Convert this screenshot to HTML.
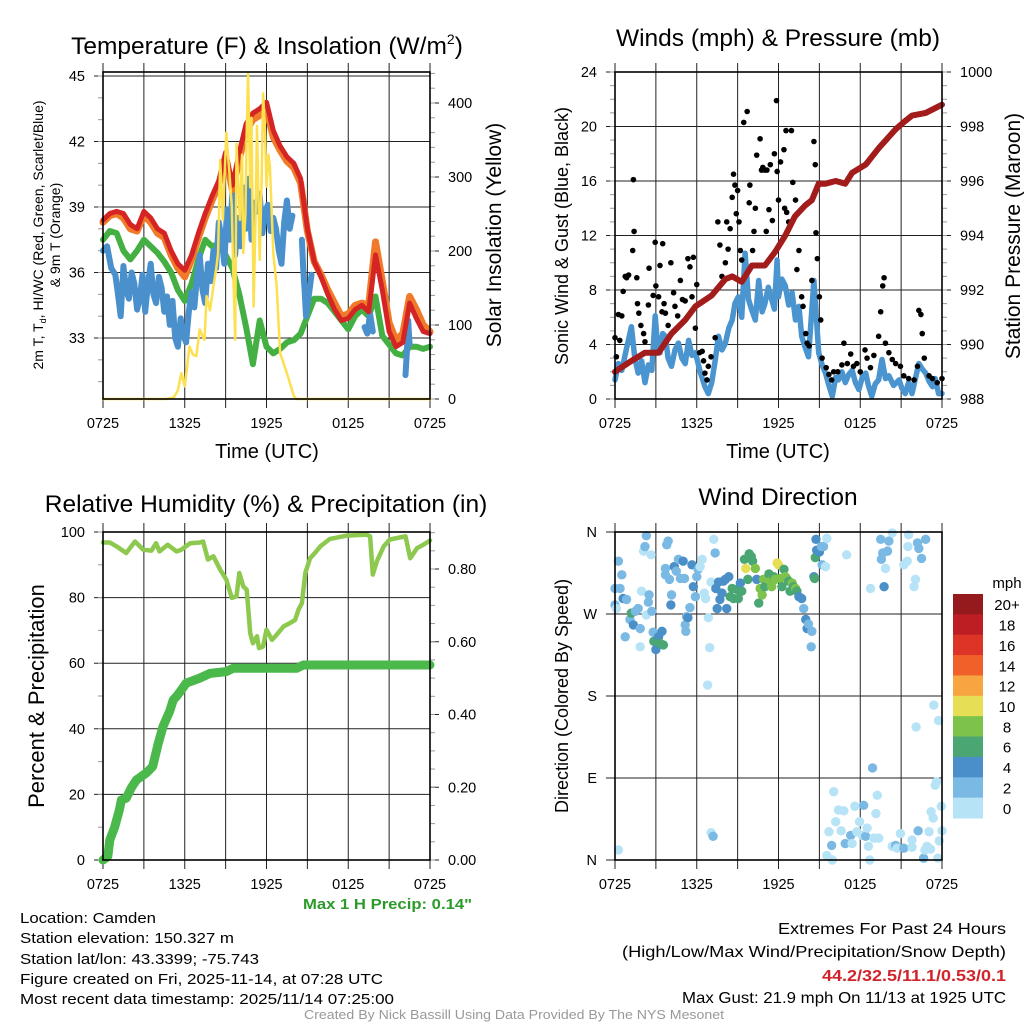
<!DOCTYPE html>
<html><head><meta charset="utf-8"><style>
html,body{margin:0;padding:0;background:#fff;}
svg{display:block;font-family:"Liberation Sans",sans-serif;}
</style></head><body>
<svg id="fig" width="1024" height="1024" viewBox="0 0 1024 1024" xmlns="http://www.w3.org/2000/svg">
<rect width="1024" height="1024" fill="#fff"/>
<g id="layer"></g>
<text x="267" y="54" font-size="24.5" text-anchor="middle">Temperature (F) &amp; Insolation (W/m<tspan font-size="14" dy="-10">2</tspan><tspan dy="10">)</tspan></text>
<text x="778" y="46" font-size="24.5" text-anchor="middle">Winds (mph) &amp; Pressure (mb)</text>
<text x="266" y="512" font-size="24.5" text-anchor="middle">Relative Humidity (%) &amp; Precipitation (in)</text>
<text x="778" y="505" font-size="24.5" text-anchor="middle">Wind Direction</text>
<text x="267" y="458" font-size="20" text-anchor="middle">Time (UTC)</text>
<text x="778" y="458" font-size="20" text-anchor="middle">Time (UTC)</text>
<text transform="translate(43,235) rotate(-90)" font-size="14" text-anchor="middle">2m T, T<tspan font-size="9" dy="3">d</tspan><tspan dy="-3">, HI/WC (Red, Green, Scarlet/Blue)</tspan></text>
<text transform="translate(60,235) rotate(-90)" font-size="14" text-anchor="middle">&amp; 9m T (Orange)</text>
<text transform="translate(501,235) rotate(-90)" font-size="21" text-anchor="middle">Solar Insolation (Yellow)</text>
<text transform="translate(568,236) rotate(-90)" font-size="18" text-anchor="middle">Sonic Wind &amp; Gust (Blue, Black)</text>
<text transform="translate(1020,236) rotate(-90)" font-size="21" text-anchor="middle">Station Pressure (Maroon)</text>
<text transform="translate(44,696) rotate(-90)" font-size="22" text-anchor="middle">Percent &amp; Precipitation</text>
<text transform="translate(568,696) rotate(-90)" font-size="18" text-anchor="middle">Direction (Colored By Speed)</text>
<text x="303" y="909" font-size="15" font-weight="bold" fill="#2a9a2a" textLength="169" lengthAdjust="spacingAndGlyphs">Max 1 H Precip: 0.14"</text>
<g font-size="15">
<text x="20" y="923" textLength="136" lengthAdjust="spacingAndGlyphs">Location: Camden</text>
<text x="20" y="943" textLength="214" lengthAdjust="spacingAndGlyphs">Station elevation: 150.327 m</text>
<text x="20" y="964" textLength="239" lengthAdjust="spacingAndGlyphs">Station lat/lon: 43.3399; -75.743</text>
<text x="20" y="984" textLength="363" lengthAdjust="spacingAndGlyphs">Figure created on Fri, 2025-11-14, at 07:28 UTC</text>
<text x="20" y="1004" textLength="374" lengthAdjust="spacingAndGlyphs">Most recent data timestamp: 2025/11/14 07:25:00</text>
</g>
<g font-size="16">
<text x="778" y="934" textLength="228" lengthAdjust="spacingAndGlyphs">Extremes For Past 24 Hours</text>
<text x="622" y="957" textLength="384" lengthAdjust="spacingAndGlyphs">(High/Low/Max Wind/Precipitation/Snow Depth)</text>
<text x="822" y="981" fill="#d0232a" font-weight="bold" textLength="184" lengthAdjust="spacingAndGlyphs">44.2/32.5/11.1/0.53/0.1</text>
<text x="682" y="1003" textLength="324" lengthAdjust="spacingAndGlyphs">Max Gust: 21.9 mph On 11/13 at 1925 UTC</text>
</g>
<text x="304" y="1019" font-size="13" fill="#999" textLength="420" lengthAdjust="spacingAndGlyphs">Created By Nick Bassill Using Data Provided By The NYS Mesonet</text>
</svg>
<script>
// ---------- data ----------
const tickTimes = [0, 6, 12, 18, 24];
const tickLabels = ["0725", "1325", "1925", "0125", "0725"];
const halfHours = [0,0.5,1,1.5,2,2.5,3,3.5,4,4.5,5,5.5,6,6.5,7,7.5,8,8.5,9,9.5,10,10.5,11,11.5,12,12.5,13,13.5,14,14.5,15,15.5,16,16.5,17,17.5,18,18.5,19,19.5,20,20.5,21,21.5,22,22.5,23,23.5,24];
const tempRed = [38.4,38.7,38.8,38.7,38.2,38.0,38.8,38.5,38.0,37.8,37.0,36.4,36.1,36.8,37.8,38.7,39.5,40.2,41.5,40.0,41.5,42.8,43.3,43.5,43.8,42.5,41.8,41.3,41.0,40.3,38.0,36.5,35.8,35.0,34.3,33.8,33.9,34.3,34.5,34.2,36.8,35.2,33.3,32.6,32.8,34.6,33.9,33.3,33.2];
const tempOrange = [38.3,38.6,38.7,38.5,38.0,37.9,38.6,38.3,37.8,37.6,36.8,36.2,35.8,36.6,37.6,38.5,39.3,40.0,41.3,39.8,41.2,42.5,43.0,43.2,43.5,42.2,41.6,41.1,40.8,40.1,37.9,36.5,35.9,35.2,34.6,34.0,34.1,34.5,34.6,34.5,37.4,35.6,33.7,32.9,33.2,34.9,34.3,33.6,33.3];
const tempGreen = [37.5,37.9,37.8,37.0,36.6,37.0,37.5,37.2,36.9,36.5,36.0,35.2,34.7,35.5,36.6,37.5,37.2,37.3,36.8,36.2,35.0,33.5,31.8,33.8,32.6,32.3,32.5,32.8,32.9,33.2,34.0,34.8,34.8,34.6,34.2,33.8,33.4,34.0,34.3,34.0,34.9,33.1,32.7,32.3,32.2,32.6,32.6,32.5,32.6];
const blueT = [0,0.3,0.6,0.9,1.1,1.3,1.5,1.7,1.9,2.1,2.3,2.5,2.7,2.9,3.1,3.3,3.5,3.7,3.9,4.1,4.3,4.5,4.7,4.9,5.1,5.3,5.5,5.7,5.9,6.1,6.3,6.5,6.7,6.9,7.1,7.3,7.5,7.7,7.9,8.1,8.3,8.5,8.7,8.9,9.1,9.3,9.5,9.7,9.9,10.1,10.3,10.5,10.7,10.9,11.1,11.3,11.5,11.7,11.9,12.1,12.3,12.5,12.7,12.9,13.1,13.3,13.5,13.7,13.9,14.1,14.3,null,14.6,14.7,14.8,14.9,15.1,15.3,null,19.2,19.4,19.6,19.8,null,22.2,22.3,22.4,22.5];
const blueV = [37.0,37.2,36.2,35.9,35.0,34.0,36.3,35.2,34.8,36.0,35.5,34.3,34.8,35.9,34.2,35.5,36.4,35.0,34.6,35.8,35.3,34.2,34.9,33.6,34.7,33.0,32.6,33.9,33.1,32.8,34.2,35.1,34.4,35.8,36.8,35.2,34.6,36.4,35.6,37.0,36.2,38.3,37.6,36.4,38.9,37.5,39.7,36.8,38.5,37.2,39.9,38.0,40.3,37.5,39.2,38.8,39.6,37.8,38.8,39.1,37.9,38.5,38.0,37.0,36.4,38.3,39.3,38.0,38.6,null,null,null,37.5,36.1,35.2,34.0,34.9,35.9,null,33.5,33.2,34.1,33.3,null,31.3,32.3,33.8,32.7];
const solarT = [0,4.6,5.2,5.5,5.75,6.0,6.35,6.6,6.85,7.1,7.3,7.45,7.6,7.85,8.1,8.3,8.45,8.6,8.8,9.05,9.3,9.45,9.55,9.7,9.8,10.05,10.2,10.3,10.45,10.55,10.65,10.8,10.9,11.05,11.2,11.3,11.5,11.65,11.75,11.9,12.0,12.15,12.25,12.5,12.75,13.0,13.5,14.0,14.2,24];
const solarW = [0,0,2,12,35,17,71,60,58,94,85,80,139,120,152,175,197,323,242,360,300,260,180,80,345,242,330,197,250,360,440,286,380,125,250,369,188,300,413,360,287,330,314,197,152,62,35,4,0,0];
const windT = [0,0.25,0.5,0.8,1.2,1.45,1.7,1.95,2.2,2.45,2.7,2.95,3.1,3.3,3.5,3.7,3.9,4.15,4.4,4.65,4.9,5.15,5.4,5.65,5.9,6.25,6.6,6.85,7.1,7.35,7.6,7.85,8.1,8.35,8.6,8.8,9.05,9.3,9.55,9.8,10.05,10.3,10.55,10.8,11.0,11.25,11.5,11.7,11.9,12.0,12.25,12.5,12.75,13.0,13.25,13.5,13.7,13.95,14.2,14.6,14.95,15.2,15.45,15.7,15.95,16.2,16.4,16.65,16.9,17.15,17.4,17.65,17.9,18.15,18.4,18.6,18.85,19.1,19.35,19.6,19.85,20.1,20.45,20.85,21.05,21.3,21.55,21.8,22.05,22.3,22.55,22.8,23.05,23.3,23.5,23.75,24];
const windV = [1.4,2.6,2.1,3.5,5.3,3.0,1.9,2.8,1.2,2.5,2.1,6.1,4.2,3.4,4.8,4.6,3.0,2.4,3.6,4.1,3.0,2.6,4.3,3.2,3.4,2.0,0.9,0.4,1.2,2.8,4.6,3.6,4.1,5.2,5.8,7.0,7.5,6.0,10.7,7.3,6.5,5.8,8.7,6.4,7.0,8.2,7.3,6.6,10.2,7.5,8.8,8.3,6.9,7.8,5.8,6.8,4.6,3.8,3.1,8.7,3.4,2.5,1.9,1.0,0.2,1.6,1.4,2.0,1.2,1.8,2.1,1.2,0.7,1.6,1.9,1.0,0.2,1.1,1.4,2.9,1.5,1.7,1.0,1.4,0.8,0.4,1.2,0.4,1.5,2.6,2.2,1.9,1.3,0.9,1.5,0.4,0.4];
const gustT = [0,0.1,0.25,0.5,0.35,0.6,0.75,0.85,1.0,1.3,1.35,1.4,1.6,1.65,1.75,1.9,2.1,2.2,2.45,2.5,2.8,2.95,3.0,3.2,3.3,3.45,3.5,3.6,3.7,3.9,4.1,4.3,4.4,4.6,4.8,4.95,5.15,5.35,5.5,5.65,5.75,5.9,6.0,6.2,6.4,6.5,6.6,6.75,6.85,7.05,7.35,7.55,7.7,7.85,8.1,8.2,8.3,8.45,8.6,8.7,8.8,8.9,9.0,9.1,9.2,9.3,9.45,9.7,9.85,9.9,10.1,10.2,10.3,10.4,10.65,10.75,10.85,11.0,11.1,11.15,11.3,11.4,11.55,11.7,11.85,11.9,12.0,12.15,12.4,12.45,12.55,12.6,12.75,12.95,13.05,13.25,13.35,13.5,13.7,13.8,14.0,14.1,14.25,14.45,14.6,14.7,14.75,14.85,15.0,15.1,15.2,15.5,15.7,15.9,16.05,16.35,16.65,16.8,17.05,17.3,17.5,17.75,18.0,18.35,18.5,18.75,19.0,19.35,19.5,19.65,19.75,19.85,20.1,20.35,20.6,20.95,21.2,21.55,21.95,22.2,22.3,22.45,22.55,22.7,23.05,23.3,23.65,24.0];
const gustV = [4.5,3.1,6.2,6.1,4.3,7.9,9.0,8.9,9.1,10.9,16.1,12.3,8.9,7.0,6.3,5.4,4.8,4.2,6.9,9.6,7.6,11.5,8.3,7.5,9.8,6.4,11.4,7.0,6.3,5.4,10.0,7.8,6.8,6.1,8.7,7.3,7.2,10.3,9.7,7.5,10.4,5.2,8.4,3.4,3.5,2.8,1.9,1.4,2.4,3.1,4.5,13.0,11.3,9.0,10.0,13.0,11.0,12.5,14.8,16.5,15.7,13.6,15.3,13.0,10.9,10.2,20.3,21.1,14.4,15.7,10.9,12.3,14.0,17.9,19.1,16.8,17.0,16.8,12.3,16.8,13.9,17.2,13.1,18.0,21.9,16.7,14.6,17.4,18.3,14.0,19.7,13.7,13.0,19.7,15.9,14.6,9.5,10.9,7.5,6.8,4.8,4.1,3.9,8.7,18.9,17.2,12.2,10.3,7.5,5.8,3.0,2.3,1.8,1.4,2.0,2.0,2.5,4.1,2.6,3.3,2.4,2.6,2.0,3.6,3.0,2.3,3.2,4.6,6.4,8.3,8.9,4.1,3.4,2.9,2.6,2.4,1.7,1.5,1.4,2.4,6.5,6.2,4.8,3.0,1.7,1.5,1.2,1.5];
const presT = [0,1.2,2.2,3.2,4.15,5.15,5.9,7.1,8.1,8.6,9.3,10.05,11.0,11.75,12.5,13.2,13.95,14.45,14.95,15.45,16.2,16.9,17.4,18.4,19.35,20.6,21.3,21.8,22.8,24];
const presV = [989.0,989.4,989.7,989.7,990.4,990.9,991.4,991.8,992.4,992.5,992.3,992.9,992.9,993.4,994.0,994.7,995.1,995.3,995.9,995.9,996.0,995.9,996.3,996.6,997.2,997.9,998.2,998.4,998.5,998.8];
const rhT = [0,0.5,1.0,1.7,2.35,2.95,3.55,3.9,4.15,4.75,5.4,5.75,6.4,7.1,7.35,7.7,8.1,8.6,9.05,9.45,9.8,10.0,10.3,10.55,10.8,11.0,11.3,11.45,11.75,12.0,12.4,12.75,13.25,13.7,14.1,14.35,14.6,14.85,15.2,15.55,15.95,16.65,17.9,19.35,19.6,19.8,20.1,20.6,21.05,22.2,22.55,23.05,23.5,24];
const rhV = [96.8,96.8,95.6,93.6,97.1,94.6,94.3,96.6,94.1,96.1,94.1,94.6,96.6,96.8,97.1,91.6,92.6,88.5,85.5,79.9,80.4,87.5,83.4,82.4,69.2,66.1,68.2,64.6,65.1,70.2,67.1,68.7,71.2,72.2,73.2,76.3,78.3,87.5,92.0,93.6,95.6,97.9,98.9,99.2,98.7,87.0,91.1,95.6,97.7,98.7,92.0,95.1,96.1,97.4];
const precipT = [0,0.35,0.5,0.85,1.2,1.35,1.7,2.1,2.45,3.2,3.65,4.05,4.4,4.9,5.15,5.4,5.75,6.1,7.1,7.85,9.05,9.55,12,14.2,14.7,24];
const precipV = [0,0.01,0.055,0.09,0.137,0.165,0.17,0.2,0.22,0.24,0.257,0.32,0.367,0.41,0.44,0.45,0.467,0.486,0.5,0.513,0.518,0.527,0.527,0.527,0.536,0.536];
const dirT = [0,0.25,0.5,0.37,0,0.1,0.6,0.85,0.75,1.1,1.2,1.35,1.5,1.7,1.85,1.85,1.95,2.1,2.2,2.3,2.3,2.45,2.5,2.65,2.7,2.8,2.85,3.0,3.2,3.3,3.45,3.55,3.7,3.7,3.8,3.9,4.0,4.1,4.15,4.35,4.5,4.65,4.8,5.0,5.1,5.15,5.2,5.25,5.35,5.5,5.65,5.75,5.9,6.0,6.1,6.25,6.4,6.55,6.65,6.85,6.95,6.8,7.05,7.25,7.35,7.4,7.5,7.6,7.7,7.85,7.95,8.1,8.2,8.35,8.45,8.6,8.7,8.95,9.05,9.2,9.3,9.5,9.6,9.75,9.85,10.0,10.1,10.3,10.4,10.55,10.65,10.8,10.9,11.0,11.15,11.3,11.4,11.5,11.65,11.75,11.9,12.0,12.15,12.25,12.4,12.5,12.6,12.75,12.85,13.0,13.1,13.25,13.35,13.5,13.7,13.85,14.0,14.1,14.2,14.4,14.45,14.6,14.65,14.7,14.75,14.8,15.0,15.15,15.2,15.3,15.45,15.55,17.0,18.75,19.5,19.65,19.55,19.75,19.85,20.0,20.1,20.35,21.2,21.45,21.55,21.5,21.95,22.05,22.2,22.3,22.5,22.8,0.25,7.05,7.2,16.05,16.4,16.8,16.2,15.7,15.9,16.6,16.9,17.3,17.4,17.6,17.75,17.95,18.15,18.25,18.4,18.5,18.6,18.9,19.0,19.15,19.25,19.35,18.7,15.55,15.95,20.35,20.6,20.7,20.95,21.2,21.8,21.8,22.25,22.65,22.9,23.05,23.2,23.35,23.5,23.6,23.7,23.8,23.95,24.0,23.4,23.75,22.1,23.15,22.75];
const dirDeg = [298,328,313,298,280,276,287,286,245,264,271,258,273,276,254,234,295,339,344,356,269,283,291,335,273,250,240,231,245,238,251,236,313,320,346,350,308,280,291,322,317,330,309,328,309,258,251,267,266,277,324,300,289,311,319,322,330,293,287,266,233,192,305,352,337,298,276,305,286,293,306,308,276,311,289,298,287,297,287,304,295,330,320,308,336,333,328,320,308,282,298,291,308,300,309,314,306,300,311,308,326,324,309,300,319,311,309,306,295,304,300,298,295,289,287,276,264,254,259,234,251,311,309,332,352,340,338,344,324,344,322,353,335,298,352,337,330,300,320,339,350,359,324,328,357,344,300,308,348,342,331,352,11,30,26,75,55,54,42,31,16,32,18,27,18,59,31,42,27,60,26,35,15,101,24,51,71,24,0,5,0,15,16,13,29,13,22,14,32,2,15,31,53,46,82,86,2,21,59,32,170,153,146,12,11];
const dirSpd = [3,3,3,3,3,1,5,3,3,3,7,5,3,3,3,1,1,1,3,3,1,3,3,1,3,3,7,5,5,7,5,7,3,3,3,3,3,5,3,5,3,3,3,5,3,3,3,3,5,3,5,5,3,3,3,1,1,1,1,1,1,1,1,1,3,5,5,5,5,5,5,5,5,5,7,7,7,7,7,5,7,7,11,7,7,7,7,9,5,7,9,9,9,7,9,7,9,9,7,9,11,11,9,7,7,9,9,7,7,9,7,9,7,5,5,3,5,5,3,3,3,5,7,7,5,5,5,3,3,3,1,1,1,1,3,3,3,5,1,3,3,1,1,1,1,1,1,1,3,3,3,3,1,1,3,1,1,1,1,1,3,1,3,3,1,1,1,1,1,3,3,1,1,3,1,1,1,1,1,1,1,1,3,1,1,3,1,1,3,3,1,1,1,1,1,1,1,1,1,1,1,1,1,1,1];
const speedBins = ["0","2","4","6","8","10","12","14","16","18","20+"];
const speedColors = ["#b7e3f7","#7ab9e3","#4a8fc7","#4aa673","#7dc24a","#e6df55","#f7a541","#f06029","#dd3428","#bd1e24","#951a1d"];

// ---------- helpers ----------
const NS = "http://www.w3.org/2000/svg";
const layer = document.getElementById('layer');
function mk(tag, attrs, parent) {
  const e = document.createElementNS(NS, tag);
  for (const k in attrs) e.setAttribute(k, attrs[k]);
  (parent || layer).appendChild(e);
  return e;
}
function linScale(d0, d1, r0, r1) { return v => r0 + (v - d0) * (r1 - r0) / (d1 - d0); }

function panel(name, L, R, T, B) {
  const g = mk('g', {});
  
  
  return {g, L, R, T, B, x: linScale(0, 24, L, R)};
}
function vgrid(p) {
  for (let h = 0; h <= 24; h += 3) {
    const X = p.x(h);
    const l = mk('line', {x1: X, x2: X, y1: p.T - 9, y2: p.B + 9, stroke: '#222', 'stroke-width': 1}, p.g);
    
    
  }
  tickTimes.forEach((h, i) => {
    const t = mk('text', {x: p.x(h), y: p.B + 29, 'font-size': 14.5, 'text-anchor': 'middle'}, p.g);
    t.textContent = tickLabels[i];
    
    
  });
}
function hgrid(p, ys, labels, side, minorStep, yS, lo, hi, full) {
  ys.forEach((v, i) => {
    const Y = yS(v);
    let x1, x2;
    if (side === 'left') { x1 = p.L - 9; x2 = p.R; }
    else { x1 = full ? p.L : p.R; x2 = p.R + 9; }
    const l = mk('line', {x1: x1, x2: x2, y1: Y, y2: Y, stroke: '#222', 'stroke-width': 1}, p.g);
    
    
    const t = mk('text', {x: side === 'left' ? p.L - 18 : p.R + 18, y: Y + 5, 'font-size': 14.5, 'text-anchor': side === 'left' ? 'end' : 'start'}, p.g);
    t.textContent = labels[i];
    
    
  });
  if (minorStep) {
    for (let v = lo; v <= hi + 1e-9; v += minorStep) {
      const Y = yS(v);
      const X = side === 'left' ? p.L : p.R;
      const m = mk('line', {x1: X, x2: side === 'left' ? X - 5 : X + 5, y1: Y, y2: Y, stroke: '#999', 'stroke-width': 1}, p.g);
      
      
    }
  }
}
function frame(p) {
  const r = mk('rect', {x: p.L, y: p.T, width: p.R - p.L, height: p.B - p.T, fill: 'none', stroke: '#000', 'stroke-width': 1.6}, p.g);
  
  
}
function linePath(xs, ys, xS, yS) {
  let d = '', pen = false;
  for (let i = 0; i < xs.length; i++) {
    if (xs[i] === null || ys[i] === null) { pen = false; continue; }
    d += (pen ? 'L' : 'M') + xS(xs[i]).toFixed(1) + ',' + yS(ys[i]).toFixed(1);
    pen = true;
  }
  return d;
}
function series(p, name, xs, ys, yS, color, w) {
  const e = mk('path', {d: linePath(xs, ys, p.x, yS), fill: 'none', stroke: color, 'stroke-width': w, 'stroke-linejoin': 'round', 'stroke-linecap': 'round'}, p.g);
  
  
}

// ---------- Panel 1: temperature ----------
const p1 = panel('temperature-panel', 103, 430, 72, 399);
const tY = linScale(33, 45, 338, 76);
const sY = linScale(0, 400, 399, 103);
vgrid(p1);
hgrid(p1, [33, 36, 39, 42, 45], ['33', '36', '39', '42', '45'], 'left', 1, tY, 31, 45);
hgrid(p1, [0, 100, 200, 300, 400], ['0', '100', '200', '300', '400'], 'right', 20, sY, 0, 440, false);
series(p1, 'dewpoint-line-green', halfHours, tempGreen, tY, '#44b043', 6);
series(p1, 'wind-chill-line-blue', blueT, blueV, tY, '#4a90cc', 6);
series(p1, 'temp-9m-line-orange', halfHours, tempOrange, tY, '#f07a2a', 7);
series(p1, 'temp-2m-line-red', halfHours, tempRed, tY, '#d42424', 5);
series(p1, 'solar-insolation-line', solarT, solarW, sY, '#fde050', 2.5);
frame(p1);

// ---------- Panel 2: wind ----------
const p2 = panel('wind-panel', 615, 942, 72, 399);
const wY = linScale(0, 24, 399, 72);
const pY = linScale(988, 1000, 399, 72);
vgrid(p2);
hgrid(p2, [0, 4, 8, 12, 16, 20, 24], ['0', '4', '8', '12', '16', '20', '24'], 'left', 1, wY, 0, 24);
hgrid(p2, [988, 990, 992, 994, 996, 998, 1000], ['988', '990', '992', '994', '996', '998', '1000'], 'right', 0.5, pY, 988, 1000, false);
series(p2, 'sonic-wind-line', windT, windV, wY, '#4a94d0', 5.5);
gustT.forEach((t, i) => {
  const c = mk('circle', {cx: p2.x(t), cy: wY(gustV[i]), r: 2.8, fill: '#000'}, p2.g);
  
  
});
series(p2, 'pressure-line', presT, presV, pY, '#a31c1c', 6);
frame(p2);

// ---------- Panel 3: RH & precip ----------
const p3 = panel('humidity-panel', 103, 430, 532, 860);
const hY = linScale(0, 100, 860, 532);
const prY = linScale(0, 0.8, 860, 569);
vgrid(p3);
hgrid(p3, [0, 20, 40, 60, 80, 100], ['0', '20', '40', '60', '80', '100'], 'left', 10, hY, 0, 100);
hgrid(p3, [0, 0.2, 0.4, 0.6, 0.8], ['0.00', '0.20', '0.40', '0.60', '0.80'], 'right', 0.05, prY, 0, 0.9, false);
series(p3, 'relative-humidity-line', rhT, rhV, hY, '#8dc94e', 4.5);
series(p3, 'precipitation-line', precipT, precipV, prY, '#4ab84a', 9);
frame(p3);

// ---------- Panel 4: wind direction ----------
const p4 = panel('wind-direction-panel', 615, 942, 532, 860);
const dY = linScale(0, 360, 860, 532);
vgrid(p4);
hgrid(p4, [0, 90, 180, 270, 360], ['N', 'E', 'S', 'W', 'N'], 'left', 0, dY, 0, 360);
dirT.forEach((t, i) => {
  const bin = Math.min(10, Math.floor(dirSpd[i] / 2));
  const c = mk('circle', {cx: p4.x(t), cy: dY(dirDeg[i]), r: 4.7, fill: speedColors[bin]}, p4.g);
  
  
});
frame(p4);

// colorbar
const cb = mk('g', {});


const cbTop = 594, cbH = 224 / speedBins.length;
speedBins.forEach((lab, i) => {
  const k = speedBins.length - 1 - i;
  const r = mk('rect', {x: 953, y: cbTop + i * cbH, width: 30, height: cbH + 0.5, fill: speedColors[k]}, cb);
  
  
  const t = mk('text', {x: 1007, y: cbTop + i * cbH + cbH / 2 + 6, 'font-size': 15, 'text-anchor': 'middle'}, cb);
  t.textContent = speedBins[k];
  
  
});
const mph = mk('text', {x: 1007, y: 588, 'font-size': 15, 'text-anchor': 'middle'}, cb);
mph.textContent = 'mph';


</script>
</body></html>
